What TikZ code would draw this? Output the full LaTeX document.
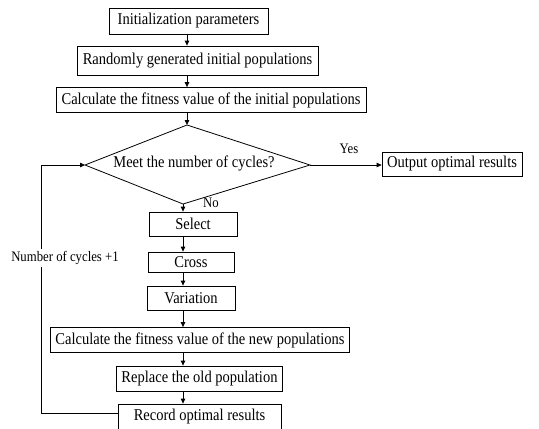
\documentclass[tikz,border=0pt]{standalone}
\usepackage{fontspec}
\setmainfont[FakeStretch=0.88]{Liberation Serif}
\usetikzlibrary{positioning, arrows.meta}

\tikzset{
  stepbox/.style={draw, line width=0.8pt, inner xsep=5pt, inner ysep=0pt, minimum height=25pt},
  flow/.style={-{Triangle[length=5pt,width=4.5pt]}, line width=0.8pt},
  sidelabel/.style={font=\fontsize{14.5}{16}\selectfont},
}

\begin{document}
\begin{tikzpicture}[x=1pt, y=-1pt, font=\fontsize{16.5}{18}\selectfont]
  \useasboundingbox (0,0) rectangle (539,429);

  % Set-up boxes
  \node[stepbox, minimum width=159pt, minimum height=26pt] (init) at (188.5,21) {Initialization parameters};
  \node[stepbox, minimum width=241pt, minimum height=29pt] (rand) at (197.5,60.5) {Randomly generated initial populations};
  \node[stepbox, minimum width=310pt] (fitA) at (211,100) {Calculate the fitness value of the initial populations};

  % Decision diamond (a little skewed, so drawn by its corners)
  \coordinate (dT) at (187,125);
  \coordinate (dL) at (85,165);
  \coordinate (dR) at (310,165);
  \coordinate (dB) at (183,204);
  \draw[line width=0.8pt] (dT) -- (dR) -- (dB) -- (dL) -- cycle;
  \node (meet) at (194,163) {Meet the number of cycles?};

  % Output on the right
  \node[stepbox, minimum width=134pt, minimum height=24pt] (out) at (452,164) {Output optimal results};

  % Loop body
  \node[stepbox, minimum width=88pt, minimum height=24pt] (sel) at (193,224) {Select};
  \node[stepbox, minimum width=86pt, minimum height=20pt] (cross) at (191,262) {Cross};
  \node[stepbox, minimum width=88pt, minimum height=24pt] (vari) at (191,298) {Variation};
  \node[stepbox, minimum width=294pt] (fitB) at (200,340) {Calculate the fitness value of the new populations};
  \node[stepbox, minimum width=165pt] (repl) at (199.5,378.5) {Replace the old population};
  \node[stepbox, minimum width=163pt, minimum height=26pt] (rec) at (199.5,417) {Record optimal results};

  % Arrows down the chain
  \draw[flow] (init.south -| dT) -- (rand.north -| dT);
  \draw[flow] (rand.south -| dT) -- (fitA.north -| dT);
  \draw[flow] (fitA.south -| dT) -- (dT);
  \draw[flow] (dB) -- (dB |- sel.north);
  \draw[flow] (sel.south -| dB) -- (cross.north -| dB);
  \draw[flow] (cross.south -| dB) -- (vari.north -| dB);
  \draw[flow] (vari.south -| dB) -- (fitB.north -| dB);
  \draw[flow] (fitB.south -| dB) -- (repl.north -| dB);
  \draw[flow] (repl.south -| dB) -- (rec.north -| dB);

  % Yes / No
  \draw[flow] (dR) -- (dR -| out.west);
  \node[sidelabel] (yes) at (349,149) {Yes};
  \node[sidelabel] (no) at (211,203) {No};

  % Feedback loop
  \coordinate (lp) at (41,0);
  \draw[flow] ([yshift=4pt]rec.west) -| (lp |- dL) -- (dL);
  \node[sidelabel, fill=white, inner xsep=1pt, inner ysep=2pt] (cyc) at (65,258) {Number of cycles +1};
\end{tikzpicture}
\end{document}
